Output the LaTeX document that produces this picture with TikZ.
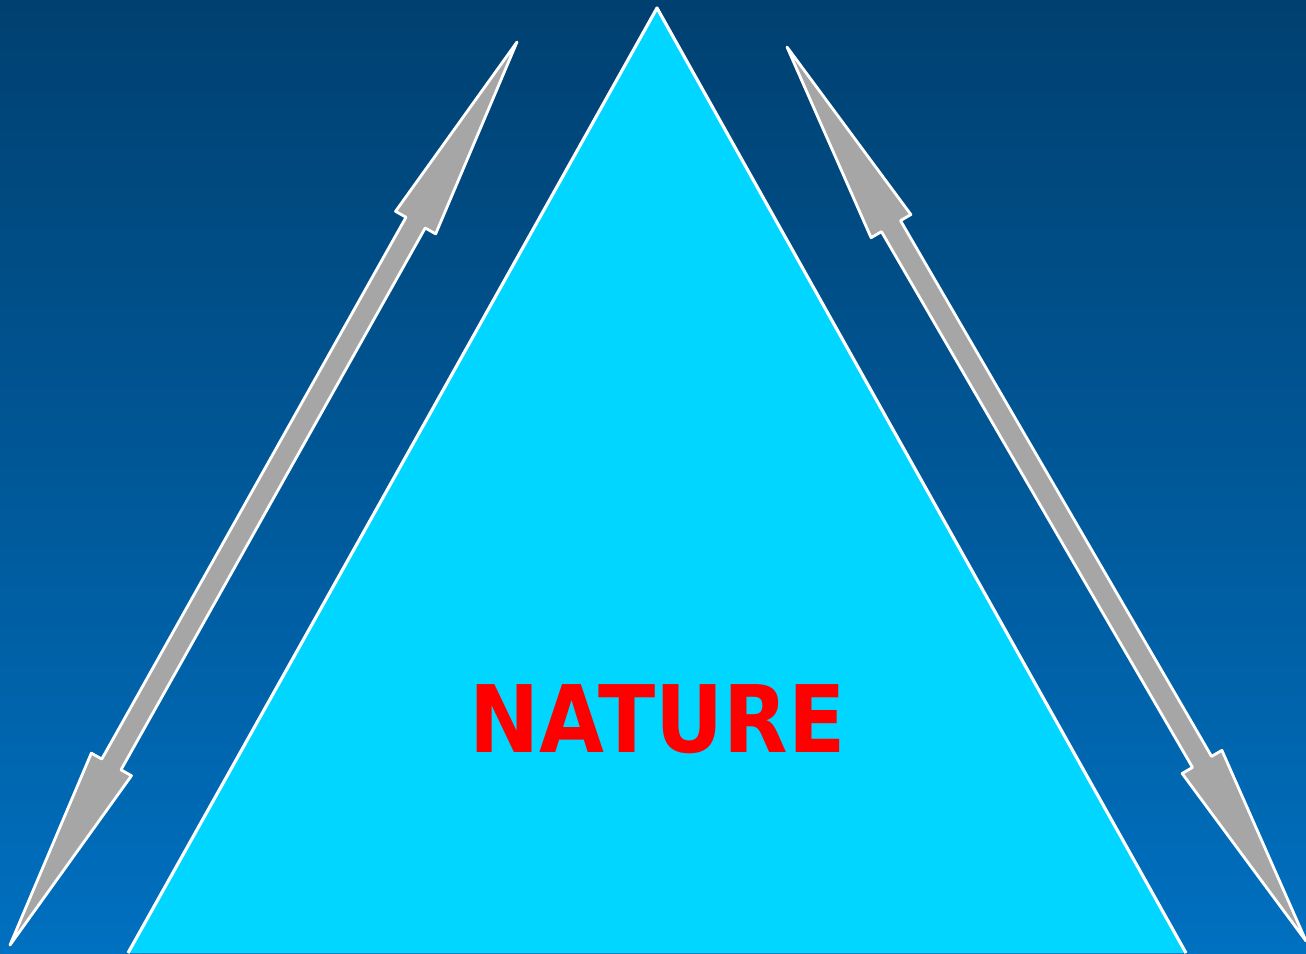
\documentclass[tikz,border=0pt]{standalone}
\usepackage{fontspec}
\newfontfamily\naturefont{DejaVu Sans}
\usetikzlibrary{calc}
\definecolor{bgtop}{RGB}{0,64,112}
\definecolor{bgbottom}{RGB}{0,112,192}
\definecolor{naturecyan}{RGB}{0,214,255}
\definecolor{arrowgray}{RGB}{166,166,166}
% two-headed block arrow between two named tips
\newcommand{\twowayarrow}[2]{%
  \filldraw[blockarrow] (#1)
    -- ($(#1)!2.07cm!(#2)!0.23cm!90:(#2)$)
    -- ($(#1)!2.07cm!(#2)!0.11cm!90:(#2)$)
    -- ($(#2)!2.07cm!(#1)!0.11cm!-90:(#1)$)
    -- ($(#2)!2.07cm!(#1)!0.23cm!-90:(#1)$)
    -- (#2)
    -- ($(#2)!2.07cm!(#1)!0.23cm!90:(#1)$)
    -- ($(#2)!2.07cm!(#1)!0.11cm!90:(#1)$)
    -- ($(#1)!2.07cm!(#2)!0.11cm!-90:(#2)$)
    -- ($(#1)!2.07cm!(#2)!0.23cm!-90:(#2)$)
    -- cycle;}
\begin{document}
\begin{tikzpicture}[x=0.01cm,y=-0.01cm,
  blockarrow/.style={fill=arrowgray,draw=white,line width=0.8pt,line join=round},
  pyramid/.style={fill=naturecyan,draw=white,line width=0.9pt,line join=round}]
  % background
  \useasboundingbox (0,0) rectangle (1306,953);
  \shade[top color=bgtop,bottom color=bgbottom] (0,0) rectangle (1306,953);
  % triangle
  \coordinate (apex) at (657,8);
  \coordinate (baseL) at (128,953);
  \coordinate (baseR) at (1186,953);
  \filldraw[pyramid] (baseL) -- (apex) -- (baseR);
  \node[text=red,font=\naturefont\bfseries\fontsize{26.5}{30}\selectfont,xscale=0.9,inner sep=0pt] (nature) at (657.5,719) {NATURE};
  % arrows
  \coordinate (lTop) at (517,42);
  \coordinate (lBot) at (10,945);
  \coordinate (rTop) at (787,47);
  \coordinate (rBot) at (1306,941);
  \twowayarrow{lTop}{lBot}
  \twowayarrow{rTop}{rBot}
\end{tikzpicture}
\end{document}
